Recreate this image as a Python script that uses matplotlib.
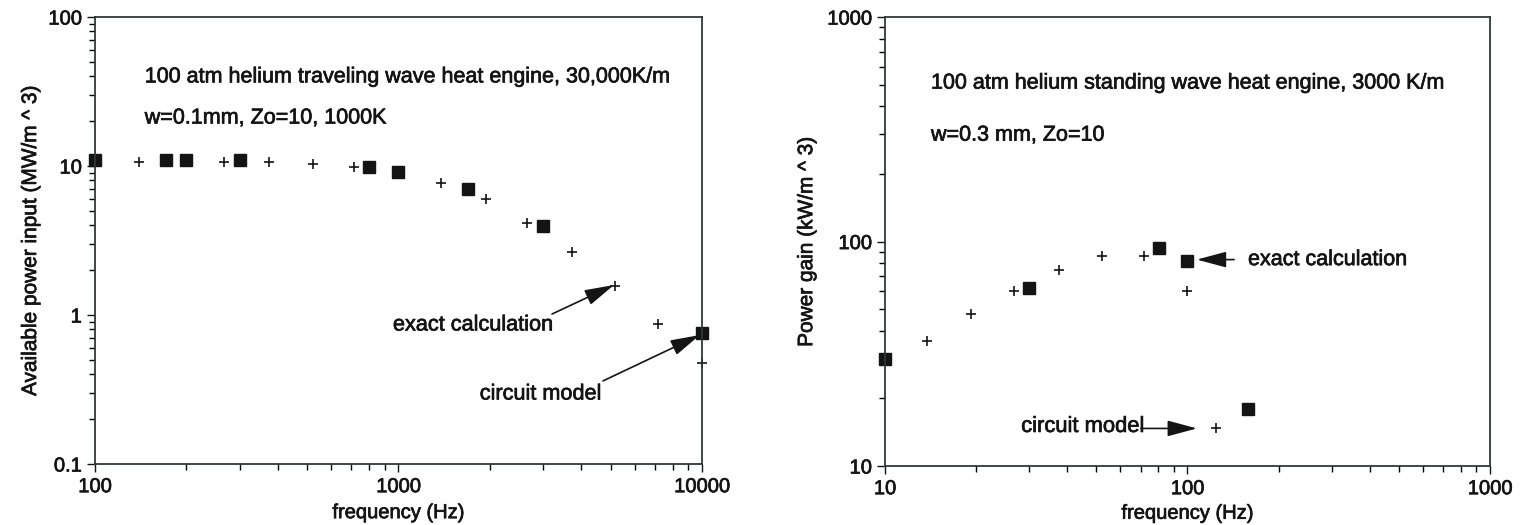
import matplotlib
matplotlib.use("Agg")
import matplotlib.pyplot as plt
import matplotlib.patheffects as pe
from matplotlib.ticker import LogLocator, FuncFormatter, NullFormatter

plt.rcParams["font.family"] = ["Liberation Sans", "DejaVu Sans"]

# Left panel: traveling wave engine (MW/m^3)
tw_sq_freq = [100, 171, 200, 300, 800, 1000, 1700, 3000, 10000]
tw_sq_power = [11.0, 11.0, 11.0, 11.0, 9.8, 9.1, 7.0, 3.96, 0.76]
tw_cr_freq = [140, 266, 374, 523, 713, 1380, 1940, 2650, 3730, 5160, 7160, 10000]
tw_cr_power = [10.6, 10.6, 10.6, 10.3, 9.8, 7.7, 6.0, 4.14, 2.65, 1.56, 0.87, 0.476]

# Right panel: standing wave engine (kW/m^3)
sw_sq_freq = [10, 30, 80.5, 100, 158]
sw_sq_gain = [30.0, 62.4, 94, 82.3, 17.9]
sw_cr_freq = [13.8, 19.2, 26.7, 37.6, 52.1, 71.8, 100, 124]
sw_cr_gain = [36.2, 47.7, 60.5, 75, 86.6, 86.6, 60.5, 14.7]

ink = "#141414"
fmt = FuncFormatter(lambda v, p: "%g" % v)
# scanned print looks a little heavier than a plain regular face
thick = [pe.withStroke(linewidth=0.5, foreground=ink)]

fig = plt.figure(figsize=(15.29, 5.25), dpi=100)
ax1 = fig.add_axes([0.0621, 0.1162, 0.397, 0.8514])
ax2 = fig.add_axes([0.5788, 0.1124, 0.3957, 0.855])


def style(ax):
    ax.set_xscale("log")
    ax.set_yscale("log")
    for s in ax.spines.values():
        s.set_color("#2e3a34")
        s.set_linewidth(1.3)
    ax.tick_params(which="major", direction="out", length=6, width=1,
                   labelsize=14.5, colors=ink, top=False, right=False)
    ax.tick_params(which="minor", direction="out", length=4, width=1,
                   top=False, right=False)
    ax.xaxis.set_major_formatter(fmt)
    ax.yaxis.set_major_formatter(fmt)
    ax.xaxis.set_minor_formatter(NullFormatter())
    ax.yaxis.set_minor_formatter(NullFormatter())
    ax.yaxis.set_minor_locator(LogLocator(subs=range(2, 10)))
    ax.xaxis.set_minor_locator(LogLocator(subs=range(2, 10)))
    for lab in ax.get_xticklabels() + ax.get_yticklabels():
        lab.set_path_effects(thick)


def note(ax, x, y, s, size, **kw):
    ax.text(x, y, s, fontsize=size, color=ink, va="center",
            path_effects=thick, **kw)


arrow = dict(arrowstyle="-|>,head_length=1.3,head_width=0.35", color=ink,
             lw=1.2, mutation_scale=14, shrinkA=0, shrinkB=0)

# ---- left
style(ax1)
ax1.plot(tw_sq_freq, tw_sq_power, "s", color=ink, ms=8.5, clip_on=False)
ax1.plot(tw_cr_freq, tw_cr_power, "+", color=ink, ms=7, mew=1.2, clip_on=False)
ax1.set_xlim(100, 10000)
ax1.set_ylim(0.1, 100)
ax1.set_xlabel("frequency (Hz)", fontsize=14.5, color=ink, labelpad=5,
               path_effects=thick)
ax1.set_ylabel("Available power input (MW/m ^ 3)", fontsize=15, color=ink,
               labelpad=6, path_effects=thick)
note(ax1, 0.082, 0.866, "100 atm helium traveling wave heat engine, 30,000K/m",
     15.5, transform=ax1.transAxes)
note(ax1, 0.082, 0.774, "w=0.1mm, Zo=10, 1000K", 15.5, transform=ax1.transAxes)
note(ax1, 959, 0.857, "exact calculation", 15.6)
ax1.annotate("", xy=(5130, 1.59), xytext=(3206, 1.015), arrowprops=arrow)
note(ax1, 1853, 0.295, "circuit model", 15.6)
ax1.annotate("", xy=(9840, 0.734), xytext=(4720, 0.361), arrowprops=arrow)

# ---- right
style(ax2)
ax2.plot(sw_sq_freq, sw_sq_gain, "s", color=ink, ms=8.5, clip_on=False)
ax2.plot(sw_cr_freq, sw_cr_gain, "+", color=ink, ms=7, mew=1.2, clip_on=False)
ax2.set_xlim(10, 1000)
ax2.set_ylim(10, 1000)
ax2.set_xlabel("frequency (Hz)", fontsize=14.5, color=ink, labelpad=4,
               path_effects=thick)
ax2.set_ylabel("Power gain (kW/m ^ 3)", fontsize=15, color=ink, labelpad=8,
               path_effects=thick)
note(ax2, 0.076, 0.853, "100 atm helium standing wave heat engine, 3000 K/m",
     15.5, transform=ax2.transAxes)
note(ax2, 0.076, 0.737, "w=0.3 mm, Zo=10", 15.5, transform=ax2.transAxes)
note(ax2, 158.5, 83.1, "exact calculation", 15.5)
ax2.annotate("", xy=(107.4, 83.1), xytext=(142.6, 83.1), arrowprops=arrow)
note(ax2, 28.2, 15.0, "circuit model", 15.8)
ax2.annotate("", xy=(107.4, 14.7), xytext=(70.2, 14.7), arrowprops=arrow)

fig.savefig("out.png", dpi=100)
